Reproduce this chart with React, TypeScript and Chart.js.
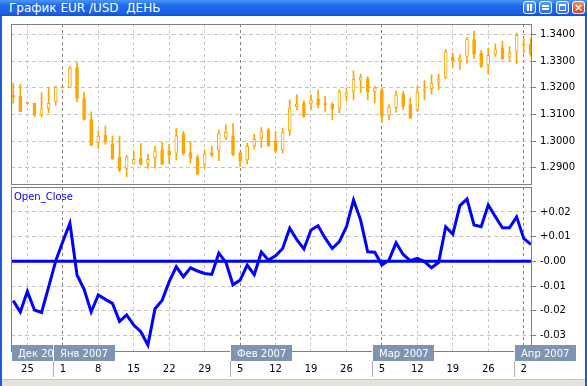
import React, { useEffect, useRef } from "react";
import { Chart, registerables } from "chart.js";
Chart.register(...registerables);

// ---- data (daily EUR/USD, Dec 21 2006 .. Apr 3 2007) ----
const opens = [
  1.3173, 1.3169, 1.3142, 1.3142, 1.3098, 1.3123, 1.3148, 1.3200, 1.3202, 1.3276,
  1.3160, 1.3081, 1.2994, 1.3022, 1.2990, 1.2941, 1.2897, 1.2916, 1.2934, 1.2916,
  1.2938, 1.2967, 1.2962, 1.2955, 1.3026, 1.2957, 1.2939, 1.2913, 1.2956, 1.2967,
  1.3014, 1.3020, 1.2956, 1.2929, 1.2982, 1.3011, 1.3040, 1.3001, 1.2967, 1.3039,
  1.3129, 1.3143, 1.3142, 1.3158, 1.3138, 1.3139, 1.3124, 1.3168, 1.3187, 1.3229,
  1.3234, 1.3187, 1.3193, 1.3096, 1.3126, 1.3177, 1.3137, 1.3118, 1.3190, 1.3197,
  1.3224, 1.3237, 1.3315, 1.3302, 1.3318, 1.3381, 1.3331, 1.3285, 1.3327, 1.3350,
  1.3315, 1.3337, 1.3363, 1.3365,
];
const highs = [
  1.3217, 1.3214, 1.3142, 1.3142, 1.3182, 1.3202, 1.3207, 1.3200, 1.3280, 1.3295,
  1.3182, 1.3110, 1.3039, 1.3057, 1.3019, 1.3019, 1.2947, 1.2960, 1.2991, 1.2951,
  1.2980, 1.2995, 1.2988, 1.3049, 1.3036, 1.2998, 1.2948, 1.2967, 1.2981, 1.3042,
  1.3061, 1.3067, 1.2960, 1.2992, 1.3026, 1.3051, 1.3049, 1.3036, 1.3049, 1.3155,
  1.3174, 1.3152, 1.3174, 1.3193, 1.3168, 1.3143, 1.3193, 1.3199, 1.3264, 1.3252,
  1.3243, 1.3206, 1.3199, 1.3137, 1.3189, 1.3187, 1.3162, 1.3206, 1.3227, 1.3249,
  1.3252, 1.3344, 1.3331, 1.3325, 1.3390, 1.3413, 1.3340, 1.3350, 1.3365, 1.3375,
  1.3356, 1.3406, 1.3387, 1.3387,
];
const lows = [
  1.3142, 1.3110, 1.3142, 1.3091, 1.3091, 1.3106, 1.3135, 1.3200, 1.3200, 1.3148,
  1.3079, 1.2982, 1.2972, 1.2988, 1.2931, 1.2884, 1.2866, 1.2914, 1.2909, 1.2897,
  1.2898, 1.2911, 1.2915, 1.2929, 1.2948, 1.2917, 1.2873, 1.2898, 1.2941, 1.2926,
  1.3005, 1.2944, 1.2904, 1.2913, 1.2971, 1.2976, 1.2980, 1.2958, 1.2955, 1.3021,
  1.3118, 1.3089, 1.3118, 1.3124, 1.3111, 1.3080, 1.3105, 1.3152, 1.3155, 1.3182,
  1.3155, 1.3143, 1.3071, 1.3080, 1.3109, 1.3118, 1.3084, 1.3111, 1.3155, 1.3177,
  1.3193, 1.3234, 1.3277, 1.3268, 1.3293, 1.3310, 1.3277, 1.3252, 1.3318, 1.3306,
  1.3300, 1.3290, 1.3331, 1.3318,
];
const closes = [
  1.3167, 1.3110, 1.3142, 1.3098, 1.3121, 1.3142, 1.3202, 1.3200, 1.3273, 1.3160,
  1.3081, 1.2985, 1.3019, 1.2997, 1.2934, 1.2891, 1.2941, 1.2931, 1.2913, 1.2931,
  1.2963, 1.2913, 1.2947, 1.3021, 1.2955, 1.2936, 1.2877, 1.2951, 1.2948, 1.3030,
  1.3034, 1.2948, 1.2926, 1.2980, 1.3007, 1.3036, 1.2983, 1.2963, 1.3034, 1.3124,
  1.3139, 1.3093, 1.3154, 1.3136, 1.3137, 1.3121, 1.3184, 1.3180, 1.3233, 1.3240,
  1.3184, 1.3200, 1.3093, 1.3126, 1.3174, 1.3130, 1.3086, 1.3184, 1.3192, 1.3218,
  1.3234, 1.3335, 1.3300, 1.3312, 1.3381, 1.3327, 1.3281, 1.3322, 1.3344, 1.3310,
  1.3331, 1.3397, 1.3362, 1.3327,
];
const oscValues = [
  -0.0159, -0.0205, -0.0122, -0.0197, -0.0207, -0.0103, 0.0002, 0.0080, 0.0154, -0.0055,
  -0.0113, -0.0205, -0.0136, -0.0154, -0.0170, -0.0243, -0.0217, -0.0258, -0.0285, -0.0339,
  -0.0192, -0.0158, -0.0082, -0.0022, -0.0062, -0.0026, -0.0039, -0.0049, -0.0053, 0.0033,
  -0.0004, -0.0095, -0.0076, -0.0015, -0.0054, 0.0038, 0.0005, 0.0022, 0.0052, 0.0134,
  0.0088, 0.0050, 0.0127, 0.0144, 0.0094, 0.0052, 0.0080, 0.0140, 0.0248, 0.0167,
  0.0039, 0.0037, -0.0015, 0.0005, 0.0075, 0.0028, 0.0003, 0.0012, -0.0001, -0.0026,
  -0.0004, 0.0140, 0.0110, 0.0226, 0.0252, 0.0147, 0.0140, 0.0228, 0.0181, 0.0136,
  0.0136, 0.0180, 0.0093, 0.0069,
];
const levelValues = [0];
const tickIndex = [2, 7, 12, 17, 22, 27, 32, 37, 42, 47, 52, 57, 62, 67, 72];
const dayLabels = ["25", "1", "8", "15", "22", "29", "5", "12", "19", "26", "5", "12", "19", "26", "2"];
const monthStartIndex = [7, 32, 52, 72];
const monthLabels = ["Дек 2006", "Янв 2007", "Фев 2007", "Мар 2007", "Апр 2007"];
const priceTicks = [1.29, 1.3, 1.31, 1.32, 1.33, 1.34];
const oscTicks = [-0.03, -0.02, -0.01, 0, 0.01, 0.02];

const FONT = '"DejaVu Sans", Verdana, sans-serif';
const ORANGE = "#ffa500";
const BLUE = "#0000ff";
const X_MIN = -0.31;
const X_MAX = 73.17;

const gridColor = (c: any) =>
  c.tick && monthStartIndex.includes(c.tick.value) ? "#808080" : "#c4c4c4";

const framePlugin = {
  id: "frame",
  afterDraw(chart: any) {
    const { ctx, chartArea: a } = chart;
    ctx.save();
    ctx.strokeStyle = "#808080";
    ctx.lineWidth = 1;
    ctx.strokeRect(a.left + 0.5, a.top + 0.5, a.right - a.left - 1, a.bottom - a.top - 1);
    ctx.restore();
  },
};

const monthPlugin = {
  id: "months",
  afterDraw(chart: any) {
    const { ctx, chartArea: a } = chart;
    const x = chart.scales.x;
    const top = a.bottom - 7;
    const h = 16;
    const w = 61;
    const lefts = [a.left + 1, ...monthStartIndex.map((i) => Math.round(x.getPixelForValue(i)) - 9)];
    ctx.save();
    ctx.font = '10px "DejaVu Sans"';
    ctx.textBaseline = "middle";
    lefts.forEach((l, k) => {
      if (k > 0) {
        ctx.fillStyle = "#b0b0b0";
        ctx.fillRect(l - 1, top + h, 1, 25 - (top + h - a.bottom));
        ctx.fillStyle = "#ffffff";
        ctx.fillRect(l - 1, top, 1, h);
      }
      ctx.fillStyle = "#7d95b0";
      ctx.fillRect(l, top, w, h);
      ctx.fillStyle = "#ffffff";
      ctx.fillText(monthLabels[k], l + 6, top + h / 2 + 1);
    });
    ctx.restore();
  },
};

const xScale = (showLabels: boolean) => ({
  type: "linear",
  min: X_MIN,
  max: X_MAX,
  offset: false,
  afterBuildTicks: (s: any) => {
    s.ticks = tickIndex.map((v) => ({ value: v }));
  },
  afterFit: (s: any) => {
    s.height = showLabels ? 31 : 0;
  },
  ticks: {
    display: showLabels,
    autoSkip: false,
    maxRotation: 0,
    padding: 11,
    color: "#000000",
    font: { family: FONT, size: 10 },
    callback: (_v: any, i: number) => dayLabels[i],
  },
  grid: { offset: false, color: gridColor, drawTicks: false, lineWidth: 1 },
  border: { display: false, dash: [3, 3] },
});

function topConfig(): any {
  return {
    type: "bar",
    data: {
      datasets: [
        {
          data: opens.map((o, i) => ({ x: i, y: [o, closes[i]] })),
          barThickness: 3,
          backgroundColor: opens.map((o, i) => (closes[i] > o ? "#ffffff" : ORANGE)),
          borderColor: ORANGE,
          borderWidth: 1,
          borderSkipped: false,
          minBarLength: 1,
          grouped: false,
        },
        {
          data: lows.map((l, i) => ({ x: i, y: [l, highs[i]] })),
          barThickness: 1,
          backgroundColor: ORANGE,
          borderWidth: 0,
          minBarLength: 1,
          grouped: false,
        },
      ],
    },
    options: {
      animation: false,
      responsive: false,
      maintainAspectRatio: false,
      layout: { padding: { left: 11, top: 12, right: 0, bottom: 12 } },
      plugins: { legend: { display: false }, tooltip: { enabled: false } },
      scales: {
        x: xScale(false),
        y: {
          position: "right",
          min: 1.2835,
          max: 1.344,
          afterBuildTicks: (s: any) => {
            s.ticks = priceTicks.map((v) => ({ value: v }));
          },
          afterFit: (s: any) => {
            s.width = 55;
          },
          ticks: {
            callback: (v: any) => Number(v).toFixed(4),
            color: "#000000",
            font: { family: FONT, size: 10 },
            padding: 4,
          },
          grid: { color: "#c4c4c4", tickColor: "#808080", tickLength: 4, tickBorderDash: [] },
          border: { display: false, dash: [4, 3] },
        },
      },
    },
    plugins: [framePlugin],
  };
}

function bottomConfig(): any {
  return {
    type: "line",
    data: {
      datasets: [
        {
          data: oscValues.map((v, i) => ({ x: i, y: v })),
          borderColor: BLUE,
          borderWidth: 3,
          pointRadius: 0,
          tension: 0,
          fill: false,
        },
        ...levelValues.map((lv) => ({
          data: [
            { x: X_MIN, y: lv },
            { x: X_MAX, y: lv },
          ],
          borderColor: BLUE,
          borderWidth: 3,
          pointRadius: 0,
          fill: false,
        })),
      ],
    },
    options: {
      animation: false,
      responsive: false,
      maintainAspectRatio: false,
      layout: { padding: { left: 11, top: 12, right: 0, bottom: 0 } },
      plugins: { legend: { display: false }, tooltip: { enabled: false } },
      scales: {
        x: xScale(true),
        y: {
          position: "right",
          min: -0.0367,
          max: 0.0301,
          afterBuildTicks: (s: any) => {
            s.ticks = oscTicks.map((v) => ({ value: v }));
          },
          afterFit: (s: any) => {
            s.width = 55;
          },
          ticks: {
            callback: (v: any) => {
              const n = Number(v);
              return (n > 0.00001 ? "+" : "-") + Math.abs(n).toFixed(2);
            },
            color: "#000000",
            font: { family: FONT, size: 10 },
            padding: 4,
          },
          grid: { color: "#c4c4c4", tickColor: "#808080", tickLength: 4, tickBorderDash: [] },
          border: { display: false, dash: [4, 3] },
        },
      },
    },
    plugins: [framePlugin, monthPlugin],
  };
}

const btnBase: React.CSSProperties = {
  position: "absolute",
  top: 1,
  width: 13,
  height: 13,
  boxSizing: "border-box",
  border: "1px solid #ffffff",
  borderRadius: 3,
  background: "linear-gradient(#5a9cff, #2a6cf0)",
};

export default function App() {
  const topRef = useRef<HTMLCanvasElement>(null);
  const botRef = useRef<HTMLCanvasElement>(null);

  useEffect(() => {
    document.body.style.margin = "0";
    const c1 = new Chart(topRef.current as HTMLCanvasElement, topConfig());
    const c2 = new Chart(botRef.current as HTMLCanvasElement, bottomConfig());
    return () => {
      c1.destroy();
      c2.destroy();
    };
  }, []);

  return (
    <div
      style={{
        position: "fixed",
        left: 0,
        top: 0,
        width: 587,
        height: 386,
        background: "#ffffff",
        overflow: "hidden",
        fontFamily: FONT,
      }}
    >
      <canvas
        ref={topRef}
        width={587}
        height={185}
        style={{ position: "absolute", left: 0, top: 12, width: 587, height: 185 }}
      />
      <canvas
        ref={botRef}
        width={587}
        height={208}
        style={{ position: "absolute", left: 0, top: 175, width: 587, height: 208 }}
      />
      <div
        style={{
          position: "absolute",
          left: 14,
          top: 191,
          color: "#0000ff",
          fontSize: 10,
          lineHeight: "12px",
          fontFamily: FONT,
        }}
      >
        Open_Close
      </div>
      {/* window frame */}
      <div
        style={{
          position: "absolute",
          left: 0,
          top: 0,
          width: 587,
          height: 16,
          background: "linear-gradient(#4a96fa, #1f68e8 35%, #1a64e6 80%, #1050d4)",
          zIndex: 2,
        }}
      >
        <span
          style={{
            position: "absolute",
            left: 9,
            top: 1,
            color: "#ffffff",
            fontSize: 12,
            lineHeight: "14px",
            whiteSpace: "pre",
            fontFamily: FONT,
          }}
        >
          График EUR /USD  ДЕНЬ
        </span>
        <div style={{ ...btnBase, left: 523 }}>
          <div style={{ position: "absolute", left: 3, top: 2, width: 2, height: 7, background: "#fff" }} />
          <div style={{ position: "absolute", left: 6, top: 2, width: 2, height: 7, background: "#fff" }} />
        </div>
        <div style={{ ...btnBase, left: 539 }}>
          <div style={{ position: "absolute", left: 2, top: 3, width: 7, height: 2, background: "#fff" }} />
          <div style={{ position: "absolute", left: 2, top: 6, width: 7, height: 2, background: "#fff" }} />
        </div>
        <div style={{ ...btnBase, left: 556 }}>
          <div
            style={{
              position: "absolute",
              left: 2,
              top: 2,
              width: 7,
              height: 7,
              boxSizing: "border-box",
              border: "1px solid #fff",
              borderTopWidth: 2,
            }}
          />
        </div>
        <div
          style={{
            ...btnBase,
            left: 572,
            background: "linear-gradient(#f08a60, #d9441c)",
            color: "#fff",
            fontSize: 11,
            lineHeight: "11px",
            textAlign: "center",
            fontWeight: "bold",
          }}
        >
          ×
        </div>
      </div>
      <div style={{ position: "absolute", left: 0, top: 16, width: 2, height: 370, background: "#2058d8" }} />
      <div style={{ position: "absolute", left: 585, top: 16, width: 2, height: 370, background: "#2058d8" }} />
      <div
        style={{
          position: "absolute",
          left: 2,
          top: 379,
          width: 583,
          height: 7,
          background: "#e4e2da",
          borderTop: "1px solid #c8c6be",
        }}
      />
    </div>
  );
}
